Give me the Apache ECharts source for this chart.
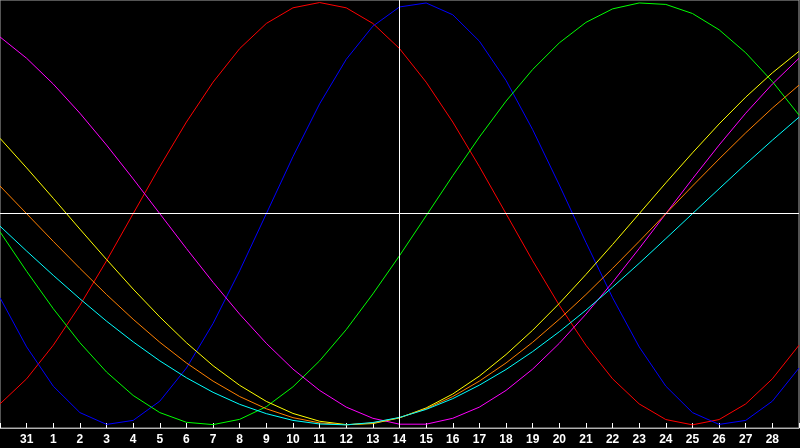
<!DOCTYPE html>
<html>
<head>
<meta charset="utf-8">
<script src="https://cdn.jsdelivr.net/npm/echarts@6/dist/echarts.min.js"></script>
<style>
html,body{margin:0;padding:0;background:#000;}
#chart{width:800px;height:448px;}
</style>
</head>
<body>
<div id="chart"></div>
<script>
// Day labels (first and last are off-screen edges)
const dayLabels = ["30","31","1","2","3","4","5","6","7","8","9","10","11","12","13","14","15","16","17","18","19","20","21","22","23","24","25","26","27","28","1"];
const todayLabel = "14";

const red = [-0.901,-0.782,-0.623,-0.434,-0.223,0,0.223,0.434,0.623,0.782,0.901,0.975,1,0.975,0.901,0.782,0.623,0.434,0.223,0,-0.223,-0.434,-0.623,-0.782,-0.901,-0.975,-1,-0.975,-0.901,-0.782,-0.623];
const blue = [-0.398,-0.631,-0.817,-0.942,-0.998,-0.979,-0.888,-0.731,-0.520,-0.270,0,0.270,0.520,0.731,0.888,0.979,0.998,0.942,0.817,0.631,0.398,0.136,-0.136,-0.398,-0.631,-0.817,-0.942,-0.998,-0.979,-0.888,-0.731];
const green = [-0.086,-0.273,-0.450,-0.611,-0.750,-0.861,-0.942,-0.988,-0.999,-0.974,-0.914,-0.820,-0.697,-0.549,-0.380,-0.199,-0.010,0.180,0.363,0.533,0.683,0.809,0.906,0.970,0.998,0.991,0.948,0.871,0.762,0.626,0.467];
const magenta = [0.837,0.736,0.614,0.476,0.325,0.165,0,-0.165,-0.325,-0.476,-0.614,-0.736,-0.837,-0.916,-0.969,-0.997,-0.997,-0.969,-0.916,-0.837,-0.736,-0.614,-0.476,-0.325,-0.165,0,0.165,0.325,0.476,0.614,0.736];
const yellow = [0.357,0.217,0.073,-0.073,-0.217,-0.357,-0.489,-0.611,-0.720,-0.813,-0.889,-0.946,-0.983,-0.999,-0.994,-0.967,-0.920,-0.854,-0.769,-0.667,-0.552,-0.425,-0.288,-0.146,0,0.146,0.288,0.425,0.552,0.667,0.769];
const orange = [0.131,0,-0.131,-0.259,-0.383,-0.500,-0.609,-0.707,-0.793,-0.866,-0.924,-0.966,-0.991,-1,-0.991,-0.966,-0.924,-0.866,-0.793,-0.707,-0.609,-0.500,-0.383,-0.259,-0.131,0,0.131,0.259,0.383,0.500,0.609];
const cyan = [-0.059,-0.177,-0.292,-0.403,-0.509,-0.607,-0.697,-0.777,-0.846,-0.903,-0.947,-0.979,-0.996,-1,-0.989,-0.965,-0.927,-0.876,-0.812,-0.738,-0.653,-0.559,-0.457,-0.348,-0.235,-0.118,0,0.118,0.235,0.348,0.457];

const seriesDefs = [
  {name:"red", data:red, color:"#ff0000"},
  {name:"blue", data:blue, color:"#0000ff"},
  {name:"green", data:green, color:"#00ff00"},
  {name:"magenta", data:magenta, color:"#ff00ff"},
  {name:"yellow", data:yellow, color:"#ffff00"},
  {name:"orange", data:orange, color:"#ff8000"},
  {name:"cyan", data:cyan, color:"#00ffff"}
];

const chart = echarts.init(document.getElementById('chart'));
const lastIdx = dayLabels.length - 1;
const series = seriesDefs.map(s => ({
  type:'line', name:s.name, data:s.data, symbol:'none', smooth:false,
  lineStyle:{color:s.color, width:1}, itemStyle:{color:s.color}, z:3
}));
series.unshift({
  type:'line', data:[], symbol:'none', silent:true, z:2,
  markLine:{
    silent:true, symbol:'none', animation:false,
    label:{show:false},
    lineStyle:{color:'#ffffff', width:1, type:'solid'},
    data:[{yAxis:0},{xAxis:dayLabels.indexOf(todayLabel)}]
  }
});

chart.setOption({
  animation:false,
  backgroundColor:'#000000',
  grid:{left:0, right:1, top:0, bottom:20, show:true, borderColor:'#a8a8a8', borderWidth:1, backgroundColor:'transparent'},
  xAxis:{
    type:'category', data:dayLabels, boundaryGap:false,
    axisLine:{show:true, onZero:false, lineStyle:{color:'#b0b0b0', width:1}},
    axisTick:{show:true, inside:true, length:5, interval:0, lineStyle:{color:'#ffffff'}},
    axisLabel:{
      color:'#ffffff', fontFamily:'Liberation Sans', fontWeight:'bold', fontSize:12, margin:6,
      interval:(i)=> i>0 && i<lastIdx
    },
    splitLine:{show:false}
  },
  yAxis:{
    type:'value', min:-1.015, max:1.012, show:false, splitLine:{show:false}
  },
  series:series
});
</script>
</body>
</html>
